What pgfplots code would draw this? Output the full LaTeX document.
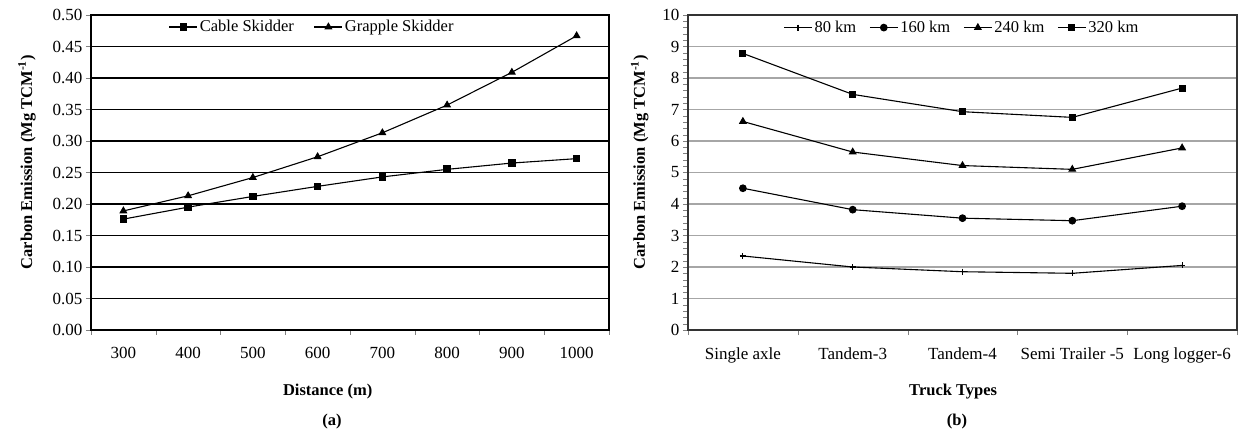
\documentclass[border=0pt]{standalone}
\usepackage{fontspec}
\setmainfont{Liberation Serif}
\usepackage{pgfplots}
\pgfplotsset{compat=1.18}
\pgfplotsset{
  common/.style={
    scale only axis, anchor=north west,
    tick align=outside, tick pos=left,
    /pgf/number format/assume math mode=true,
    tick label style={font=\fontsize{17}{17}\selectfont},
    xticklabel style={yshift=-9pt},
    label style={font=\fontsize{16.5}{16.5}\selectfont\bfseries},
    ylabel style={at={(ticklabel cs:0.532)}},
    legend style={draw=none, fill=none, legend columns=-1,
      font=\fontsize{16.5}{16.5}\selectfont, anchor=center},
    legend image code/.code={\draw[mark repeat=2,mark phase=2] plot coordinates {(0pt,0pt) (14pt,0pt) (28pt,0pt)};},
    ymajorgrids,
    major x tick style={draw=none},
    minor tick length=5pt, major tick length=5pt,
  },
}
\begin{document}
\begin{tikzpicture}
\path[use as bounding box] (0pt,0pt) rectangle (1243pt,-433pt);
\begin{axis}[common,
  at={(91pt,-15pt)}, width=518pt, height=315pt,
  xmin=-0.5, xmax=7.5, ymin=0, ymax=0.5,
  xtick={0,...,7}, xticklabels={300,400,500,600,700,800,900,1000},
  minor xtick={-0.5,0.5,...,7.5},
  ytick={0,0.05,0.10,0.15,0.20,0.25,0.30,0.35,0.40,0.45,0.50},
  yticklabel style={/pgf/number format/.cd, fixed, fixed zerofill, precision=2},
  grid style={black, line width=1.5pt},
  axis line style={black, line width=1.3pt},
  xlabel={Distance (m)},
  xlabel style={at={(rel axis cs:0.457,0)}, anchor=center, yshift=-62pt},
  ylabel={Carbon Emission (Mg TCM\textsuperscript{-1})},
  ylabel shift=10pt,
  legend style={at={(0.427,0.962)},
    /tikz/every even column/.append style={column sep=18pt}},
]
\addplot[black, line width=1.1pt, mark=square*, mark size=3.3pt] coordinates {
  (0,0.176) (1,0.195) (2,0.212) (3,0.228) (4,0.243) (5,0.255) (6,0.265) (7,0.272)};
\addlegendentry{Cable Skidder}
\addplot[black, line width=1.1pt, mark=triangle*, mark size=3.6pt] coordinates {
  (0,0.189) (1,0.213) (2,0.242) (3,0.275) (4,0.313) (5,0.357) (6,0.409) (7,0.467)};
\addlegendentry{Grapple Skidder}
\end{axis}
\begin{axis}[common,
  at={(688pt,-15pt)}, width=549pt, height=315pt,
  xmin=-0.5, xmax=4.5, ymin=0, ymax=10,
  xtick={0,...,4},
  xticklabels={Single axle, Tandem-3, Tandem-4, Semi Trailer -5, Long logger-6},
  minor xtick={-0.5,0.5,...,4.5},
  ytick={0,1,...,10},
  minor y tick num=4,
  minor y tick style={gray},
  grid style={gray!70, line width=1.2pt},
  axis line style={black!80, line width=1.2pt},
  xlabel={Truck Types},
  xlabel style={at={(rel axis cs:0.483,0)}, anchor=center, yshift=-62pt},
  ylabel={Carbon Emission (Mg TCM\textsuperscript{-1})},
  ylabel shift=7pt,
  legend style={at={(0.499,0.96)},
    /tikz/every even column/.append style={column sep=11pt}},
]
\addplot[black, line width=1.1pt, mark=+, mark size=3pt] coordinates {
  (0,2.35) (1,2.00) (2,1.85) (3,1.80) (4,2.05)};
\addlegendentry{80 km}
\addplot[black, line width=1.1pt, mark=*, mark size=3.3pt] coordinates {
  (0,4.50) (1,3.82) (2,3.55) (3,3.47) (4,3.93)};
\addlegendentry{160 km}
\addplot[black, line width=1.1pt, mark=triangle*, mark size=3.6pt] coordinates {
  (0,6.62) (1,5.65) (2,5.22) (3,5.10) (4,5.78)};
\addlegendentry{240 km}
\addplot[black, line width=1.1pt, mark=square*, mark size=3pt] coordinates {
  (0,8.78) (1,7.48) (2,6.93) (3,6.75) (4,7.68)};
\addlegendentry{320 km}
\end{axis}
\node[font=\fontsize{16.5}{16.5}\selectfont\bfseries] at (332pt,-422pt) {(a)};
\node[font=\fontsize{16.5}{16.5}\selectfont\bfseries] at (957pt,-422pt) {(b)};
\end{tikzpicture}
\end{document}
